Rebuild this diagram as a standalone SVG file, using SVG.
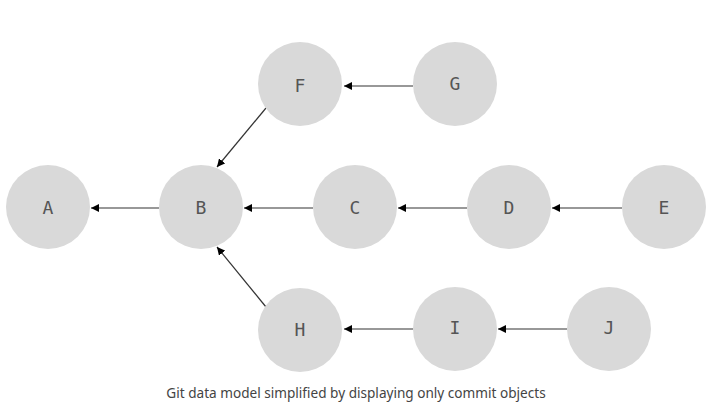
<svg xmlns="http://www.w3.org/2000/svg" width="719" height="418" viewBox="0 0 719 418">
<defs>
<marker id="arr" viewBox="0 0 10 10" refX="10" refY="5" markerWidth="8" markerHeight="8" markerUnits="userSpaceOnUse" orient="auto">
<path d="M0,0 L10,5 L0,10 z" fill="#000"/>
</marker>
</defs>
<style>
.n circle{fill:#d9d9d9}
.n text{font-family:"DejaVu Sans Mono",monospace;font-size:18px;fill:#555;text-anchor:middle;dominant-baseline:central}
.e line{stroke:#333;stroke-width:1.2;marker-end:url(#arr)}
.cap{font-family:"Noto Sans","Open Sans",sans-serif;font-size:13.6px;fill:#444;text-anchor:middle}
</style>
<rect width="719" height="418" fill="#fff"/>
<g id="edges" class="e">
<line x1="159" y1="208" x2="91" y2="208"/>
<line x1="313" y1="208" x2="244" y2="208"/>
<line x1="467" y1="208" x2="398" y2="208"/>
<line x1="622" y1="208" x2="552" y2="208"/>
<line x1="413" y1="86" x2="344" y2="86"/>
<line x1="266" y1="108" x2="217" y2="167"/>
<line x1="266" y1="307" x2="217" y2="247"/>
<line x1="413" y1="329" x2="344" y2="329"/>
<line x1="567" y1="329" x2="498" y2="329"/>
</g>
<g id="A" class="n"><circle cx="48" cy="207" r="42"/><text x="48" y="207">A</text></g>
<g id="B" class="n"><circle cx="201" cy="207" r="42"/><text x="201" y="207">B</text></g>
<g id="C" class="n"><circle cx="355" cy="207" r="42"/><text x="355" y="207">C</text></g>
<g id="D" class="n"><circle cx="509" cy="207" r="42"/><text x="509" y="207">D</text></g>
<g id="E" class="n"><circle cx="664" cy="207" r="42"/><text x="664" y="207">E</text></g>
<g id="F" class="n"><circle cx="300" cy="84" r="42"/><text x="300" y="85">F</text></g>
<g id="G" class="n"><circle cx="455" cy="84" r="42"/><text x="455" y="83">G</text></g>
<g id="H" class="n"><circle cx="300" cy="330" r="42"/><text x="300" y="329">H</text></g>
<g id="I" class="n"><circle cx="455" cy="329" r="42"/><text x="455" y="327">I</text></g>
<g id="J" class="n"><circle cx="609" cy="329" r="42"/><text x="609" y="327">J</text></g>
<text class="cap" x="356" y="398">Git data model simplified by displaying only commit objects</text>
</svg>
